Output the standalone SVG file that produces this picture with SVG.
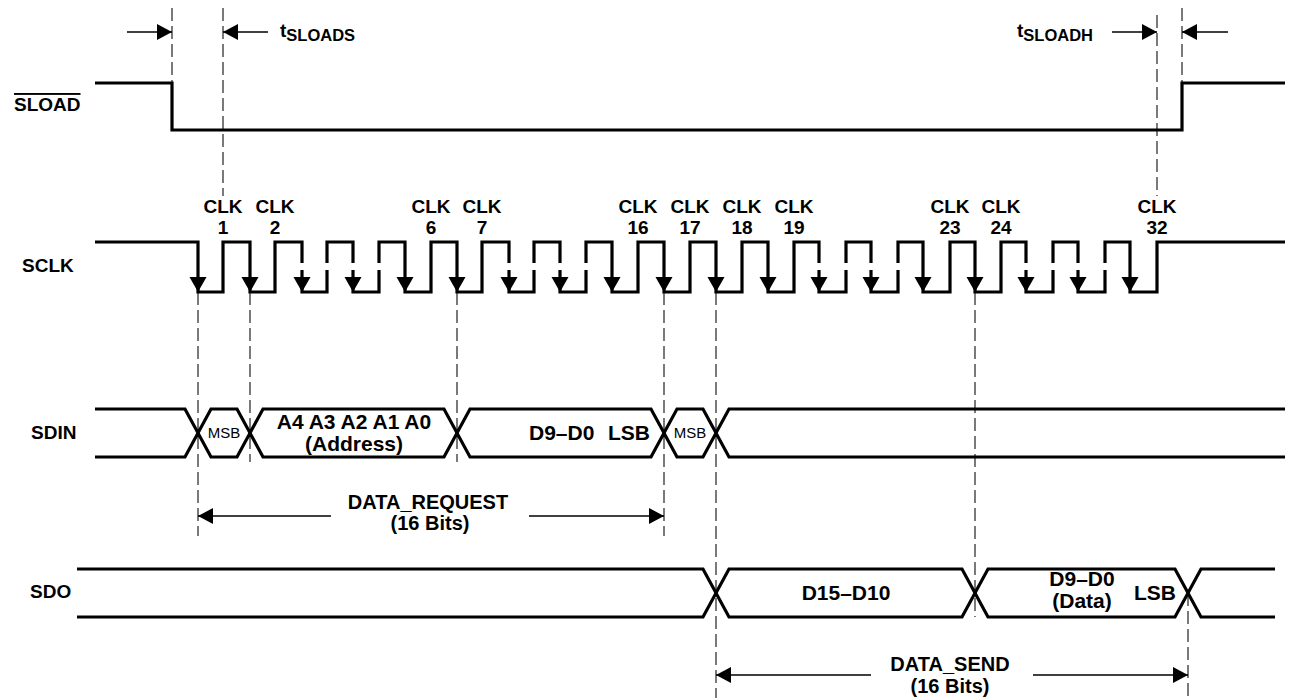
<svg xmlns="http://www.w3.org/2000/svg" width="1289" height="698" viewBox="0 0 1289 698">
<style>
.sig{fill:none;stroke:#000;stroke-width:3.2;stroke-linejoin:miter;stroke-linecap:butt}
.dash{fill:none;stroke:#222;stroke-width:1.2;stroke-dasharray:13 5}
.dim{fill:none;stroke:#000;stroke-width:1.5}
.lbl{font-family:"Liberation Sans",Arial,sans-serif;font-weight:bold;font-size:19px;fill:#000}
.clk{font-family:"Liberation Sans",Arial,sans-serif;font-weight:bold;font-size:19px;fill:#000;text-anchor:middle}
.dat{font-family:"Liberation Sans",Arial,sans-serif;font-weight:bold;font-size:21px;fill:#000}
.big{font-family:"Liberation Sans",Arial,sans-serif;font-weight:bold;font-size:20px;fill:#000;text-anchor:middle}
.mid{text-anchor:middle}
.small{font-family:"Liberation Sans",Arial,sans-serif;font-size:15px;fill:#000;text-anchor:middle}
</style>
<defs>
<marker id="arr" viewBox="0 0 15 16" refX="15" refY="8" markerWidth="15" markerHeight="16" markerUnits="userSpaceOnUse" orient="auto">
<path d="M0,0 L15,8 L0,16 Z" fill="#000"/>
</marker>
<path id="clkArrow" d="M-8.5,277 L8.5,277 L0,292 Z" fill="#000"/>
</defs>
<rect width="1289" height="698" fill="#fff"/>

<g id="connectors">
<line class="dash" x1="172" y1="8" x2="172" y2="83"/>
<line class="dash" x1="223" y1="8" x2="223" y2="196"/>
<line class="dash" x1="1157" y1="15" x2="1157" y2="196"/>
<line class="dash" x1="1182" y1="8" x2="1182" y2="83"/>
<line class="dash" x1="198" y1="292" x2="198" y2="536"/>
<line class="dash" x1="250" y1="292" x2="250" y2="462"/>
<line class="dash" x1="457" y1="292" x2="457" y2="462"/>
<line class="dash" x1="664" y1="292" x2="664" y2="536"/>
<line class="dash" x1="716" y1="292" x2="716" y2="698"/>
<line class="dash" x1="975" y1="292" x2="975" y2="617"/>
<line class="dash" x1="1188" y1="593" x2="1188" y2="698"/>
<line class="dim" x1="127" y1="32" x2="172" y2="32" marker-end="url(#arr)"/>
<line class="dim" x1="268" y1="32" x2="223" y2="32" marker-end="url(#arr)"/>
<line class="dim" x1="1112" y1="32" x2="1157" y2="32" marker-end="url(#arr)"/>
<line class="dim" x1="1228" y1="32" x2="1182" y2="32" marker-end="url(#arr)"/>
<line class="dim" x1="331" y1="516" x2="198" y2="516" marker-end="url(#arr)"/>
<line class="dim" x1="529" y1="516" x2="664" y2="516" marker-end="url(#arr)"/>
<line class="dim" x1="871" y1="675" x2="716" y2="675" marker-end="url(#arr)"/>
<line class="dim" x1="1033" y1="675" x2="1188" y2="675" marker-end="url(#arr)"/>
</g>

<g id="timing-labels">
<text class="lbl" x="280" y="37" font-size="20">t<tspan font-size="16.5" dy="4">SLOADS</tspan></text>
<text class="lbl" x="1017" y="37" font-size="20">t<tspan font-size="16.5" dy="4">SLOADH</tspan></text>
</g>

<g id="sload">
<text class="lbl" x="14" y="111" style="text-decoration:overline">SLOAD</text>
<path class="sig" d="M95,83 H172 V130 H1182 V83 H1285"/>
</g>

<g id="sclk">
<text class="lbl" x="22" y="272">SCLK</text>
<path class="sig" d="M95,242 H198 V292 H223 V242 H250 V292 H275 V242 H302 V263 M302,270 V292 H327 V270 M327,263 V242 H353 V263 M353,270 V292 H379 V270 M379,263 V242 H405 V292 H431 V242 H457 V292 H482 V242 H509 V263 M509,270 V292 H534 V270 M534,263 V242 H560 V263 M560,270 V292 H586 V270 M586,263 V242 H612 V292 H638 V242 H664 V292 H690 V242 H716 V292 H742 V242 H768 V292 H794 V242 H819 V263 M819,270 V292 H846 V270 M846,263 V242 H871 V263 M871,270 V292 H898 V270 M898,263 V242 H923 V292 H950 V242 H975 V292 H1001 V242 H1026 V263 M1026,270 V292 H1053 V270 M1053,263 V242 H1078 V263 M1078,270 V292 H1105 V270 M1105,263 V242 H1130 V292 H1157 V242 H1285"/>
<use href="#clkArrow" x="198"/><use href="#clkArrow" x="250"/><use href="#clkArrow" x="302"/><use href="#clkArrow" x="353"/>
<use href="#clkArrow" x="405"/><use href="#clkArrow" x="457"/><use href="#clkArrow" x="509"/><use href="#clkArrow" x="560"/>
<use href="#clkArrow" x="612"/><use href="#clkArrow" x="664"/><use href="#clkArrow" x="716"/><use href="#clkArrow" x="768"/>
<use href="#clkArrow" x="819"/><use href="#clkArrow" x="871"/><use href="#clkArrow" x="923"/><use href="#clkArrow" x="975"/>
<use href="#clkArrow" x="1026"/><use href="#clkArrow" x="1078"/><use href="#clkArrow" x="1130"/>
<g class="clk">
<text x="223" y="213">CLK</text><text x="223" y="234">1</text>
<text x="275" y="213">CLK</text><text x="275" y="234">2</text>
<text x="431" y="213">CLK</text><text x="431" y="234">6</text>
<text x="482" y="213">CLK</text><text x="482" y="234">7</text>
<text x="638" y="213">CLK</text><text x="638" y="234">16</text>
<text x="690" y="213">CLK</text><text x="690" y="234">17</text>
<text x="742" y="213">CLK</text><text x="742" y="234">18</text>
<text x="794" y="213">CLK</text><text x="794" y="234">19</text>
<text x="950" y="213">CLK</text><text x="950" y="234">23</text>
<text x="1001" y="213">CLK</text><text x="1001" y="234">24</text>
<text x="1157" y="213">CLK</text><text x="1157" y="234">32</text>
</g>
</g>

<g id="sdin">
<text class="lbl" x="31" y="439">SDIN</text>
<path class="sig" d="M95,409 H185 L198,433 L211,409 H237 L250,433 L263,409 H444 L457,433 L470,409 H651 L664,433 L677,409 H703 L716,433 L729,409 H1285"/>
<path class="sig" d="M95,457 H185 L198,433 L211,457 H237 L250,433 L263,457 H444 L457,433 L470,457 H651 L664,433 L677,457 H703 L716,433 L729,457 H1285"/>
<text class="small" x="224" y="438">MSB</text>
<text class="dat mid" x="354" y="429">A4 A3 A2 A1 A0</text>
<text class="dat mid" x="354" y="451">(Address)</text>
<text class="dat" x="529" y="440">D9–D0</text>
<text class="dat" x="608" y="440">LSB</text>
<text class="small" x="690" y="438">MSB</text>
</g>

<g id="data-request">
<text class="big" x="428" y="509">DATA_REQUEST</text>
<text class="big" x="430" y="530">(16 Bits)</text>
</g>

<g id="sdo">
<text class="lbl" x="30" y="598">SDO</text>
<path class="sig" d="M77,569 H703 L716,593 L729,569 H962 L975,593 L988,569 H1175 L1188,593 L1201,569 H1275"/>
<path class="sig" d="M77,617 H703 L716,593 L729,617 H962 L975,593 L988,617 H1175 L1188,593 L1201,617 H1275"/>
<text class="dat mid" x="846" y="600">D15–D10</text>
<text class="dat mid" x="1082" y="586">D9–D0</text>
<text class="dat mid" x="1082" y="608">(Data)</text>
<text class="dat" x="1134" y="600">LSB</text>
</g>

<g id="data-send">
<text class="big" x="950" y="671">DATA_SEND</text>
<text class="big" x="950" y="693">(16 Bits)</text>
</g>
</svg>
